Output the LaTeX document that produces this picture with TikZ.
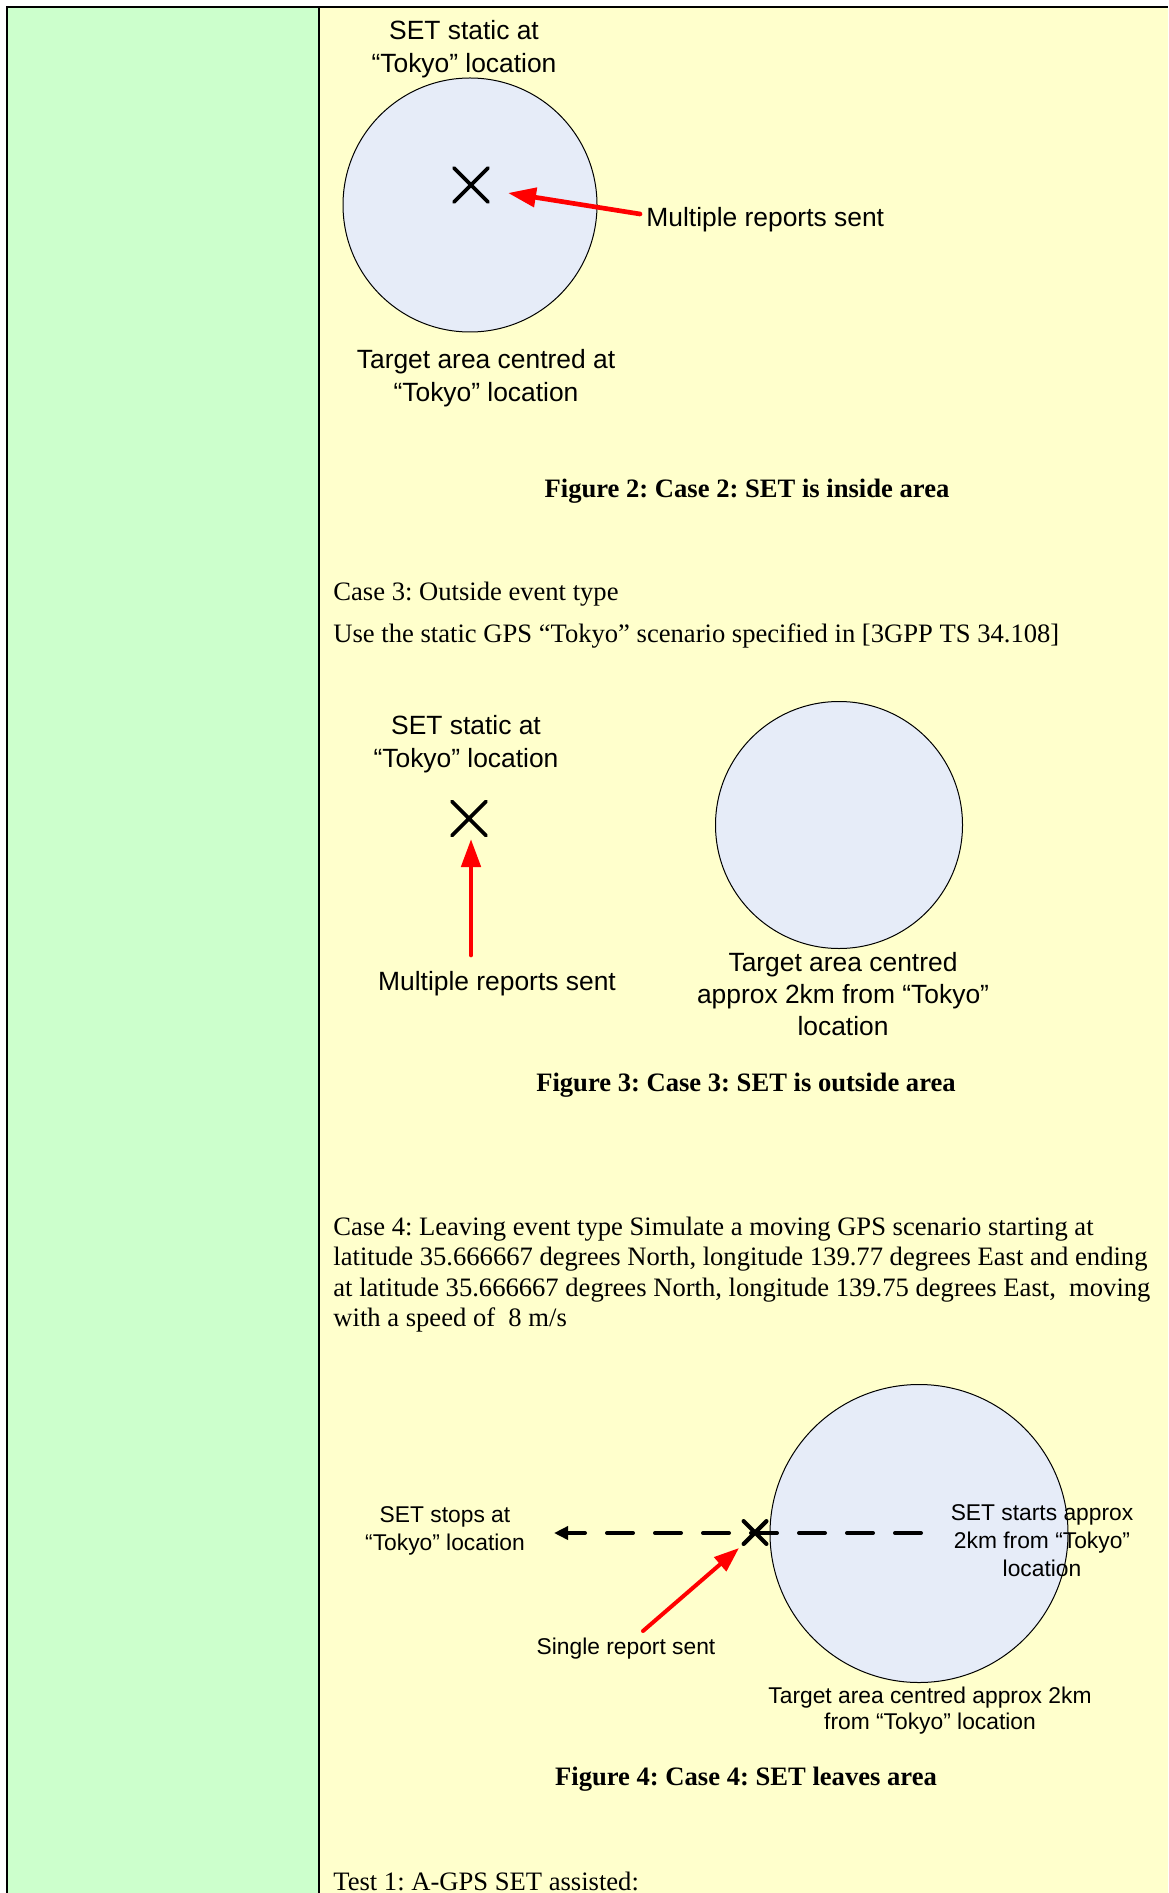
\documentclass[tikz,border=0pt]{standalone}
\usepackage{fontspec}
\setmainfont{Liberation Serif}
\newfontfamily\arialf{Liberation Sans}
\usetikzlibrary{arrows.meta,shapes.misc}
\definecolor{greenc}{HTML}{CCFFCC}
\definecolor{yellowc}{HTML}{FFFFCC}
\definecolor{areablue}{HTML}{E6ECF8}
\frenchspacing
\begin{document}
\begin{tikzpicture}[x=0.5pt,y=-0.5pt,
  lab/.style={font=\arialf\fontsize{13.2}{16.5}\selectfont, align=center, inner sep=0pt},
  smalllab/.style={font=\arialf\fontsize{11.4}{14}\selectfont, align=center, inner sep=0pt},
  body/.style={font=\fontsize{13.3}{15.25}\selectfont, anchor=west, align=left, inner sep=0pt},
  figcap/.style={font=\bfseries\fontsize{13.3}{15}\selectfont, inner sep=0pt},
  area/.style={circle, draw=black, line width=0.5pt, fill=areablue, inner sep=0pt, minimum size=#1},
  xmark/.style={cross out, draw=black, line cap=round, inner sep=0pt, minimum size=#1},
  redarrow/.style={draw=red, line cap=round, -{Triangle[length=14pt,width=9.5pt]}},
]
\useasboundingbox (0,0) rectangle (1168,1893);
% table background
\fill[white] (0,0) rectangle (1168,1893);
\fill[greenc] (7,7) rectangle (319,1893);
\fill[yellowc] (319,7) rectangle (1168,1893);
\draw[line width=1pt] (7,1893) -- (7,7) -- (1168,7);
\draw[line width=0.9pt] (319,7) -- (319,1893);

% ---------- Figure 2 ----------
\node[area=127pt] (c2) at (470,205) {};
\node[lab] (s2) at (464,49.5) {SET static at\\“Tokyo” location};
\node[xmark=15.3pt, line width=1.85pt] (x2) at (471,185) {};
\node[lab, anchor=west] (m2) at (646,220) {Multiple reports sent};
\coordinate (a2s) at (640,214);
\coordinate (a2e) at (508,193);
\draw[redarrow, line width=2.35pt] (a2s) -- (a2e);
\node[lab] (t2) at (486,378) {Target area centred at\\“Tokyo” location};
\node[figcap] (f2) at (747,491) {Figure 2: Case 2: SET is inside area};

% ---------- Case 3 text ----------
\node[body] (case3) at (333,594) {Case 3: Outside event type};
\node[body] (use3) at (333,636) {Use the static GPS “Tokyo” scenario specified in [3GPP TS 34.108]};

% ---------- Figure 3 ----------
\node[lab] (s3) at (466,744) {SET static at\\“Tokyo” location};
\node[xmark=15.3pt, line width=1.85pt] (x3) at (469,818.5) {};
\coordinate (a3s) at (471,955);
\coordinate (a3e) at (471,839);
\draw[redarrow, line width=2.35pt] (a3s) -- (a3e);
\node[lab] (m3) at (497,984) {Multiple reports sent};
\node[area=123.5pt] (c3) at (839,825) {};
\node[lab, font=\arialf\fontsize{13.2}{16}\selectfont] (t3) at (843,994) {Target area centred\\approx 2km from “Tokyo”\\location};
\node[figcap] (f3) at (746,1085) {Figure 3: Case 3: SET is outside area};

% ---------- Case 4 text ----------
\node[body] (case4) at (333,1274.5) {Case 4: Leaving event type Simulate a moving GPS scenario starting at\\
latitude 35.666667 degrees North, longitude 139.77 degrees East and ending\\
at latitude 35.666667 degrees North, longitude 139.75 degrees East,~ moving\\
with a speed of~ 8 m/s};

% ---------- Figure 4 ----------
\node[area=149pt] (c4) at (919,1533.5) {};
\node[smalllab] (st4) at (1042,1541) {SET starts approx\\2km from “Tokyo”\\location};
\coordinate (d4s) at (921,1533);
\coordinate (d4e) at (554,1533);
\draw[line width=2pt, line cap=round, dash pattern=on 13pt off 11pt,
      -{Triangle[length=7pt,width=6.5pt]}] (d4s) -- (d4e);
\node[xmark=9.3pt, line width=2.1pt] (x4) at (755,1532.5) {};
\node[smalllab] (sp4) at (445,1531) {SET stops at\\“Tokyo” location};
\coordinate (a4s) at (643,1631);
\coordinate (a4e) at (739,1548);
\draw[redarrow, line width=2pt, -{Triangle[length=12.5pt,width=9pt]}] (a4s) -- (a4e);
\node[smalllab] (r4) at (626,1649) {Single report sent};
\node[smalllab, font=\arialf\fontsize{11.4}{13}\selectfont] (t4) at (930,1711) {Target area centred approx 2km\\from “Tokyo” location};
\node[figcap] (f4) at (746,1779) {Figure 4: Case 4: SET leaves area};

% ---------- Test 1 ----------
\node[body] (test1) at (333,1881) {Test 1: A-GPS SET assisted:};
\end{tikzpicture}
\end{document}
